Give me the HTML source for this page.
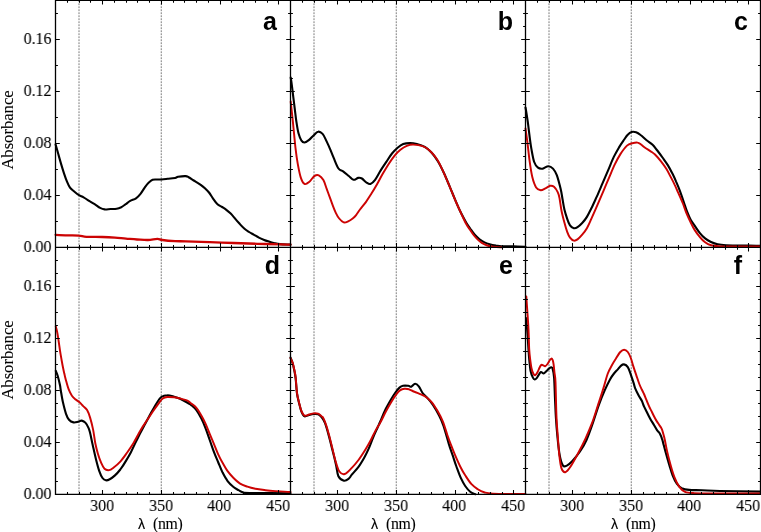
<!DOCTYPE html>
<html><head><meta charset="utf-8"><style>
html,body{margin:0;padding:0;background:#fff;width:761px;height:532px;overflow:hidden;position:relative}
.yl{position:absolute;left:0;width:51.6px;text-align:right;transform:scaleX(0.97);transform-origin:100% 50%;font:16.5px/1 "Liberation Serif",serif;color:#000;white-space:nowrap}
.xl{position:absolute;top:498px;width:40px;text-align:center;transform:scaleX(0.965);font:16.5px/1 "Liberation Serif",serif;color:#000}
.lam{position:absolute;top:516.2px;font:15.8px/1 "Liberation Serif",serif;letter-spacing:-0.35px;color:#000;white-space:nowrap}
.lam.g{font-family:"Liberation Sans",sans-serif;font-size:14.2px;top:516.8px}
.ylab{position:absolute;left:-37.5px;width:90px;height:16px;text-align:center;font:16.6px/1 "Liberation Serif",serif;transform:rotate(-90deg);transform-origin:50% 50%;margin-top:-8px}
.pl{position:absolute;width:40px;text-align:right;font:bold 25px/1 "Liberation Sans",sans-serif;color:#000}
.yl,.xl,.lam,.pl,.ylab{will-change:transform}
.yl,.xl,.lam,.ylab{-webkit-text-stroke:0.1px #000}
</style></head><body>
<svg width="761" height="532" viewBox="0 0 761 532" style="position:absolute;left:0;top:0"><line x1="79.00" y1="0.30" x2="79.00" y2="247.30" stroke="#6c6c6c" stroke-width="0.9" stroke-dasharray="1.85 1.15"/>
<line x1="161.25" y1="0.30" x2="161.25" y2="247.30" stroke="#6c6c6c" stroke-width="0.9" stroke-dasharray="1.85 1.15"/>
<line x1="314.00" y1="0.30" x2="314.00" y2="247.30" stroke="#6c6c6c" stroke-width="0.9" stroke-dasharray="1.85 1.15"/>
<line x1="396.25" y1="0.30" x2="396.25" y2="247.30" stroke="#6c6c6c" stroke-width="0.9" stroke-dasharray="1.85 1.15"/>
<line x1="549.00" y1="0.30" x2="549.00" y2="247.30" stroke="#6c6c6c" stroke-width="0.9" stroke-dasharray="1.85 1.15"/>
<line x1="631.25" y1="0.30" x2="631.25" y2="247.30" stroke="#6c6c6c" stroke-width="0.9" stroke-dasharray="1.85 1.15"/>
<line x1="79.00" y1="247.30" x2="79.00" y2="494.30" stroke="#6c6c6c" stroke-width="0.9" stroke-dasharray="1.85 1.15"/>
<line x1="161.25" y1="247.30" x2="161.25" y2="494.30" stroke="#6c6c6c" stroke-width="0.9" stroke-dasharray="1.85 1.15"/>
<line x1="314.00" y1="247.30" x2="314.00" y2="494.30" stroke="#6c6c6c" stroke-width="0.9" stroke-dasharray="1.85 1.15"/>
<line x1="396.25" y1="247.30" x2="396.25" y2="494.30" stroke="#6c6c6c" stroke-width="0.9" stroke-dasharray="1.85 1.15"/>
<line x1="549.00" y1="247.30" x2="549.00" y2="494.30" stroke="#6c6c6c" stroke-width="0.9" stroke-dasharray="1.85 1.15"/>
<line x1="631.25" y1="247.30" x2="631.25" y2="494.30" stroke="#6c6c6c" stroke-width="0.9" stroke-dasharray="1.85 1.15"/>
<path d="M55.6 144.5C56.0 145.9 57.1 149.8 58.0 153.0C58.9 156.2 60.0 160.2 61.0 163.6C62.0 167.0 63.0 170.3 64.0 173.3C65.0 176.3 66.0 179.2 67.0 181.6C68.0 184.0 68.8 185.9 70.0 187.6C71.2 189.3 73.0 190.5 74.5 191.8C76.0 193.1 77.5 194.3 79.0 195.2C80.5 196.1 81.8 196.4 83.6 197.4C85.4 198.4 87.6 199.9 89.6 201.2C91.6 202.4 93.8 203.8 95.6 204.9C97.3 206.0 98.6 207.2 100.1 207.9C101.6 208.7 102.8 209.2 104.6 209.4C106.3 209.6 108.6 209.1 110.6 209.0C112.6 208.9 114.9 209.0 116.7 208.7C118.5 208.4 119.7 207.9 121.2 207.2C122.7 206.4 124.2 205.2 125.7 204.2C127.2 203.1 128.5 201.9 130.2 200.9C131.9 199.9 134.3 199.5 136.0 198.3C137.7 197.1 139.0 195.7 140.5 193.8C142.0 191.9 143.6 189.0 145.0 187.1C146.4 185.2 147.5 183.8 148.8 182.6C150.1 181.4 151.2 180.3 152.6 179.8C154.0 179.3 155.5 179.6 157.0 179.5C158.5 179.4 159.8 179.6 161.6 179.5C163.4 179.4 165.3 179.1 167.6 178.8C169.8 178.6 173.3 178.3 175.1 178.0C176.8 177.7 176.3 177.1 178.1 176.8C179.8 176.5 183.8 176.0 185.6 176.1C187.3 176.2 187.1 176.5 188.6 177.3C190.1 178.1 192.7 179.8 194.7 181.0C196.7 182.2 198.9 183.5 200.7 184.8C202.4 186.1 203.8 187.3 205.2 188.6C206.6 189.9 207.7 190.9 209.0 192.5C210.3 194.1 211.5 196.4 212.9 198.4C214.3 200.4 216.0 202.9 217.5 204.3C219.0 205.7 220.7 206.1 222.1 207.0C223.5 207.9 224.6 208.5 226.0 209.6C227.4 210.7 229.1 212.1 230.7 213.6C232.2 215.1 233.8 217.1 235.3 218.8C236.8 220.6 238.4 222.4 239.9 224.1C241.4 225.8 243.0 227.4 244.5 228.7C246.0 230.0 247.6 231.0 249.1 232.0C250.6 233.0 252.1 233.7 253.7 234.6C255.3 235.5 257.1 236.7 258.9 237.6C260.6 238.5 262.4 239.2 264.2 239.9C266.0 240.6 267.8 241.2 269.5 241.8C271.2 242.4 272.9 242.8 274.7 243.2C276.4 243.6 277.4 243.9 280.0 244.1C282.6 244.3 288.8 244.5 290.5 244.6" stroke="#000" stroke-width="2.1" fill="none" stroke-linejoin="round" stroke-linecap="round"/>
<path d="M55.6 234.8C57.6 234.9 63.7 235.2 67.6 235.3C71.4 235.5 75.5 235.4 78.7 235.7C81.9 235.9 82.6 236.6 86.5 236.8C90.4 237.0 97.5 236.9 102.3 237.0C107.0 237.1 111.0 237.3 115.0 237.6C119.0 237.9 122.3 238.3 126.0 238.6C129.7 238.9 133.3 239.3 137.0 239.5C140.7 239.7 144.6 240.1 148.0 240.0C151.4 239.9 155.1 238.9 157.5 238.9C159.9 238.9 159.4 239.6 162.3 240.0C165.2 240.4 171.1 240.9 175.0 241.1C178.9 241.3 180.1 241.2 185.9 241.4C191.7 241.6 201.8 241.9 209.7 242.2C217.6 242.5 225.7 242.7 233.6 243.0C241.5 243.3 249.4 243.6 257.4 243.8C265.3 244.0 275.8 244.2 281.3 244.4C286.8 244.6 289.0 244.6 290.5 244.7" stroke="#cc0303" stroke-width="2.3" fill="none" stroke-linejoin="round" stroke-linecap="round"/>
<path d="M290.7 77.5C290.9 78.8 291.4 81.7 291.8 85.0C292.2 88.3 292.8 93.1 293.3 97.1C293.8 101.1 294.3 105.1 294.8 109.1C295.3 113.1 295.7 117.1 296.3 121.1C296.9 125.1 297.6 129.9 298.5 133.2C299.4 136.5 300.5 139.1 301.5 140.7C302.5 142.2 303.2 142.6 304.5 142.5C305.8 142.4 307.6 141.1 309.1 139.9C310.6 138.7 312.1 136.8 313.6 135.4C315.1 134.0 316.6 131.9 318.1 131.7C319.6 131.4 321.2 132.4 322.6 133.9C324.0 135.4 325.1 138.2 326.3 140.7C327.5 143.2 328.8 145.9 330.0 148.8C331.2 151.7 332.4 154.9 333.8 158.2C335.2 161.5 336.9 166.3 338.5 168.5C340.1 170.7 341.4 170.1 343.1 171.3C344.8 172.6 347.1 174.6 348.8 176.0C350.5 177.4 351.9 179.5 353.5 179.8C355.1 180.1 356.8 178.1 358.2 177.9C359.6 177.7 360.5 177.7 361.9 178.5C363.3 179.3 365.2 181.7 366.6 182.6C368.0 183.5 369.0 184.4 370.4 183.9C371.8 183.4 373.4 182.1 375.1 179.8C376.8 177.6 378.8 173.4 380.7 170.4C382.6 167.4 384.4 164.7 386.3 161.9C388.2 159.1 390.1 155.8 392.0 153.5C393.9 151.2 395.7 149.4 397.6 147.8C399.5 146.2 401.1 144.9 403.2 144.1C405.3 143.3 407.8 143.1 410.1 143.1C412.4 143.1 414.4 143.4 416.9 144.0C419.3 144.6 422.4 145.5 424.8 146.9C427.2 148.3 429.3 150.1 431.5 152.5C433.7 154.9 435.9 158.1 438.0 161.5C440.1 164.9 441.9 168.7 443.8 172.8C445.7 176.9 447.7 181.8 449.6 186.3C451.5 190.8 453.4 195.6 455.2 199.9C457.0 204.2 458.8 208.5 460.7 212.3C462.6 216.1 464.7 220.0 466.3 222.8C467.9 225.6 469.1 227.0 470.5 229.0C471.9 231.0 473.3 233.1 474.8 234.8C476.3 236.5 477.9 238.0 479.5 239.3C481.1 240.6 482.8 241.6 484.5 242.4C486.2 243.2 487.8 243.7 489.7 244.2C491.6 244.7 494.0 245.2 496.0 245.6C498.0 245.9 498.6 246.2 501.5 246.3C504.4 246.4 509.3 246.3 513.3 246.4C517.3 246.5 523.5 246.6 525.5 246.7" stroke="#000" stroke-width="2.1" fill="none" stroke-linejoin="round" stroke-linecap="round"/>
<path d="M290.7 101.6C291.0 104.3 291.9 112.8 292.5 118.1C293.1 123.4 293.5 128.2 294.0 133.2C294.5 138.2 294.9 143.0 295.5 148.2C296.1 153.3 296.9 159.2 297.8 164.1C298.7 169.0 299.7 174.3 300.8 177.6C301.9 180.9 303.1 183.2 304.5 183.9C305.9 184.7 307.5 183.4 309.1 182.1C310.7 180.8 312.7 177.2 314.3 176.1C315.9 175.0 317.3 174.6 318.8 175.3C320.3 176.0 322.1 177.8 323.4 180.1C324.7 182.4 325.7 186.2 326.8 189.2C327.9 192.2 329.1 195.4 330.1 198.2C331.1 201.0 332.1 203.7 333.0 206.1C333.9 208.5 334.8 210.7 335.8 212.8C336.8 214.9 337.9 216.9 339.2 218.5C340.5 220.1 342.2 221.9 343.7 222.4C345.2 222.9 346.7 222.0 348.2 221.3C349.7 220.7 351.4 219.5 352.7 218.5C354.0 217.5 354.9 216.6 356.1 215.1C357.3 213.6 358.4 211.6 360.0 209.5C361.6 207.4 363.8 204.9 365.7 202.3C367.6 199.7 369.4 196.8 371.3 193.8C373.2 190.8 375.0 187.8 376.9 184.5C378.8 181.2 380.7 177.4 382.6 174.1C384.5 170.8 386.2 167.8 388.2 164.7C390.2 161.6 392.8 157.9 394.8 155.4C396.8 152.9 398.4 151.3 400.4 149.7C402.4 148.1 404.6 146.7 406.8 145.8C409.0 145.0 410.9 144.5 413.5 144.6C416.1 144.7 419.9 145.2 422.5 146.2C425.1 147.1 426.9 148.1 429.3 150.3C431.7 152.5 434.8 155.9 437.0 159.3C439.2 162.7 440.7 166.1 442.8 170.6C444.9 175.1 447.4 181.2 449.6 186.3C451.8 191.5 453.9 197.1 455.8 201.5C457.7 205.9 459.2 209.1 460.9 212.8C462.6 216.5 464.6 221.0 466.1 223.8C467.6 226.6 468.7 227.9 470.0 229.8C471.3 231.8 472.7 233.9 474.0 235.5C475.3 237.1 476.5 238.4 477.8 239.6C479.1 240.8 480.2 241.8 481.8 242.8C483.4 243.8 485.3 244.8 487.3 245.5C489.3 246.2 491.2 246.4 493.6 246.7C496.1 247.0 500.6 247.2 502.0 247.3" stroke="#cc0303" stroke-width="1.95" fill="none" stroke-linejoin="round" stroke-linecap="round"/>
<path d="M525.5 107.5C525.9 109.7 526.9 116.0 527.6 120.7C528.3 125.4 528.9 131.0 529.5 135.7C530.1 140.4 530.6 144.5 531.4 148.9C532.2 153.3 533.1 158.9 534.2 162.0C535.3 165.1 536.6 166.6 538.0 167.7C539.4 168.8 541.0 168.8 542.7 168.6C544.4 168.3 546.6 166.2 548.3 166.2C550.0 166.2 551.6 167.1 553.0 168.6C554.4 170.1 555.5 171.9 556.8 175.2C558.0 178.5 559.5 184.3 560.5 188.3C561.5 192.3 561.9 195.5 562.5 199.0C563.1 202.5 563.6 206.1 564.4 209.4C565.2 212.7 566.3 216.1 567.2 218.8C568.1 221.5 568.9 223.8 570.0 225.4C571.1 227.0 572.5 227.9 573.8 228.2C575.0 228.5 576.1 228.1 577.5 227.2C578.9 226.3 580.6 224.7 582.2 223.0C583.8 221.3 585.4 219.4 586.9 216.9C588.4 214.4 589.8 211.4 591.5 208.0C593.2 204.6 595.0 200.5 596.9 196.4C598.8 192.3 600.7 187.6 602.6 183.2C604.5 178.8 606.3 174.5 608.2 170.1C610.1 165.7 611.9 160.8 613.8 156.9C615.7 153.0 617.8 149.5 619.5 146.6C621.2 143.7 622.9 141.4 624.2 139.5C625.5 137.6 626.3 136.2 627.5 135.0C628.7 133.8 630.2 132.4 631.6 132.0C633.0 131.6 634.6 131.8 636.1 132.3C637.6 132.8 638.9 133.7 640.6 135.0C642.4 136.3 644.6 138.7 646.6 140.3C648.6 141.9 650.8 143.1 652.6 144.8C654.4 146.5 655.6 148.4 657.3 150.5C658.9 152.6 660.8 155.1 662.5 157.5C664.2 159.9 666.2 162.5 667.8 165.1C669.4 167.7 670.9 170.6 672.3 173.3C673.7 176.1 674.9 178.7 676.1 181.6C677.4 184.5 678.5 187.1 679.8 190.7C681.1 194.3 682.9 199.4 684.1 203.0C685.3 206.6 686.1 209.2 687.2 212.0C688.3 214.8 689.4 217.6 690.8 220.0C692.1 222.4 693.8 224.4 695.3 226.6C696.8 228.8 698.3 231.1 699.9 233.1C701.5 235.1 703.2 236.9 705.1 238.4C707.0 239.9 708.9 241.0 711.0 242.0C713.1 243.0 715.1 243.8 717.6 244.3C720.1 244.9 722.4 245.1 726.1 245.3C729.8 245.5 736.2 245.6 740.0 245.6C743.8 245.6 745.6 245.5 749.0 245.5C752.4 245.5 758.6 245.8 760.5 245.8" stroke="#000" stroke-width="2.1" fill="none" stroke-linejoin="round" stroke-linecap="round"/>
<path d="M525.5 128.5C525.8 130.7 526.6 136.1 527.3 141.4C528.0 146.7 528.7 154.2 529.5 160.2C530.3 166.1 531.2 172.6 532.3 177.1C533.4 181.6 534.7 185.2 536.1 187.4C537.5 189.6 539.2 190.0 540.8 190.2C542.4 190.3 543.9 189.0 545.5 188.3C547.1 187.6 548.8 186.1 550.2 185.8C551.6 185.6 552.8 185.8 554.0 186.8C555.2 187.9 556.8 190.2 557.7 192.1C558.6 194.0 558.9 194.8 559.5 198.0C560.1 201.2 560.8 207.2 561.6 211.3C562.4 215.4 563.5 219.1 564.4 222.5C565.3 225.9 566.3 229.4 567.2 231.9C568.1 234.4 568.9 236.2 570.0 237.6C571.1 239.0 572.5 240.3 573.8 240.6C575.0 240.9 576.1 240.4 577.5 239.4C578.9 238.4 580.6 236.6 582.2 234.7C583.8 232.8 585.4 230.8 586.9 228.2C588.4 225.6 589.5 222.9 591.3 218.9C593.1 214.9 595.9 208.6 597.9 203.9C599.9 199.2 601.6 195.2 603.5 190.8C605.4 186.4 607.2 182.0 609.1 177.6C611.0 173.2 612.9 168.3 614.8 164.4C616.7 160.5 618.4 157.2 620.4 154.1C622.4 151.0 625.0 147.4 627.0 145.6C629.0 143.8 630.5 143.8 632.3 143.3C634.1 142.8 636.1 142.3 637.6 142.6C639.1 142.8 640.1 143.9 641.4 144.8C642.6 145.7 643.5 146.7 645.1 147.8C646.7 148.9 649.5 150.5 651.1 151.6C652.8 152.7 653.4 152.9 655.0 154.5C656.6 156.1 659.1 158.9 661.0 161.3C662.9 163.7 664.7 166.2 666.3 168.8C667.9 171.4 669.4 174.5 670.8 177.1C672.2 179.7 673.4 182.0 674.6 184.6C675.9 187.2 676.9 189.8 678.3 192.9C679.7 196.1 681.6 200.2 682.9 203.5C684.2 206.8 684.9 209.4 686.2 212.5C687.5 215.6 689.1 219.1 690.5 222.0C691.9 224.9 693.0 227.4 694.6 229.9C696.2 232.4 698.1 235.0 699.9 237.1C701.6 239.2 703.2 240.9 705.1 242.3C707.0 243.7 708.6 244.6 711.0 245.3C713.4 246.0 716.4 246.2 719.6 246.4C722.8 246.6 723.2 246.5 730.0 246.5C736.8 246.5 755.4 246.5 760.5 246.5" stroke="#cc0303" stroke-width="1.95" fill="none" stroke-linejoin="round" stroke-linecap="round"/>
<path d="M55.8 370.9C56.1 371.8 57.1 373.8 57.8 376.2C58.5 378.6 59.5 382.8 60.0 385.2C60.5 387.6 60.3 387.6 60.8 390.5C61.3 393.4 62.1 398.7 63.0 402.6C63.9 406.5 65.0 410.9 66.0 413.8C67.0 416.7 67.8 418.4 69.0 419.8C70.2 421.2 72.0 422.1 73.5 422.4C75.0 422.7 76.7 422.1 78.1 421.8C79.5 421.5 80.5 420.4 81.8 420.6C83.0 420.8 84.5 421.6 85.6 422.9C86.7 424.1 87.9 426.5 88.6 428.1C89.3 429.7 89.3 429.9 90.0 432.6C90.7 435.3 91.6 440.1 92.6 444.5C93.6 448.9 94.8 454.5 95.9 458.9C97.0 463.3 98.1 467.6 99.2 470.8C100.3 474.0 101.4 476.4 102.5 478.0C103.6 479.6 104.6 480.1 105.8 480.3C107.0 480.5 108.2 480.1 109.7 479.3C111.2 478.5 113.2 477.0 115.0 475.4C116.8 473.8 118.5 471.8 120.3 469.5C122.0 467.2 123.8 464.5 125.5 461.6C127.2 458.8 129.2 455.4 130.8 452.4C132.4 449.4 133.6 446.6 135.0 443.6C136.4 440.6 137.8 438.0 139.5 434.6C141.2 431.2 143.5 427.1 145.5 423.3C147.5 419.6 149.6 415.5 151.5 412.1C153.4 408.7 155.2 405.5 156.8 403.0C158.4 400.5 159.6 398.3 161.3 397.0C163.1 395.7 165.2 395.2 167.3 395.2C169.4 395.1 172.0 396.1 174.1 396.7C176.2 397.3 177.8 397.8 180.1 398.8C182.4 399.9 186.1 401.9 188.0 403.0C189.8 404.1 189.9 403.9 191.3 405.1C192.7 406.3 194.7 407.9 196.4 410.1C198.1 412.4 199.8 415.5 201.4 418.6C203.0 421.7 204.3 425.1 205.7 428.7C207.1 432.3 208.5 436.6 209.9 440.5C211.3 444.4 212.7 448.7 214.1 452.4C215.5 456.1 216.9 459.1 218.3 462.5C219.7 465.9 221.1 469.5 222.6 472.6C224.2 475.7 225.8 478.7 227.6 481.1C229.4 483.5 231.7 485.5 233.5 487.0C235.3 488.5 237.1 489.3 238.6 490.2C240.2 491.1 241.0 491.8 242.8 492.3C244.6 492.8 241.6 492.9 249.5 493.0C257.5 493.1 283.7 493.2 290.5 493.2" stroke="#000" stroke-width="2.1" fill="none" stroke-linejoin="round" stroke-linecap="round"/>
<path d="M55.8 326.5C56.0 327.3 56.5 328.8 57.0 331.1C57.5 333.4 58.0 336.9 58.5 340.1C59.0 343.4 59.5 347.3 60.0 350.6C60.5 353.9 61.1 357.2 61.6 360.0C62.1 362.8 62.5 365.1 63.0 367.5C63.5 369.9 63.9 371.8 64.4 374.1C65.0 376.5 65.6 379.1 66.3 381.6C67.0 384.1 67.7 386.9 68.6 389.2C69.5 391.5 70.7 394.0 71.9 395.7C73.1 397.4 74.4 398.4 75.7 399.5C77.0 400.6 78.2 401.2 79.5 402.3C80.8 403.4 81.9 404.8 83.2 406.1C84.5 407.4 85.9 408.2 87.1 410.1C88.2 412.0 89.1 414.4 90.1 417.6C91.1 420.9 92.2 425.3 93.1 429.6C94.0 433.9 94.5 439.2 95.3 443.2C96.1 447.2 96.9 450.4 97.9 453.7C98.9 457.0 100.1 460.4 101.2 462.9C102.3 465.4 103.2 467.6 104.5 468.8C105.8 470.0 107.6 470.3 109.1 470.1C110.6 469.9 111.8 468.9 113.7 467.5C115.6 466.1 118.1 464.0 120.3 461.6C122.5 459.2 124.6 456.1 126.8 453.0C129.0 449.9 131.0 447.1 133.4 443.2C135.8 439.3 138.7 433.2 141.0 429.4C143.3 425.6 145.0 423.3 147.0 420.3C149.0 417.3 151.1 414.1 153.0 411.3C154.9 408.6 156.7 405.9 158.3 403.8C159.9 401.7 161.3 399.6 162.8 398.5C164.3 397.4 165.4 397.2 167.3 397.0C169.2 396.8 172.0 397.1 174.1 397.3C176.2 397.6 177.8 397.9 180.1 398.5C182.4 399.1 186.0 400.0 187.8 400.8C189.6 401.6 189.7 402.3 191.1 403.4C192.5 404.5 194.5 405.6 196.2 407.6C197.9 409.6 199.6 412.5 201.2 415.2C202.8 417.9 204.1 420.5 205.5 423.6C206.9 426.7 208.3 430.4 209.7 433.8C211.1 437.2 212.5 440.5 213.9 443.9C215.3 447.3 216.7 451.0 218.1 454.1C219.5 457.2 220.8 459.7 222.4 462.5C224.0 465.3 225.6 468.4 227.4 470.9C229.2 473.4 231.2 475.6 233.3 477.7C235.4 479.8 237.7 482.1 240.1 483.6C242.5 485.1 244.9 485.8 247.4 486.7C250.0 487.6 252.4 488.2 255.4 488.8C258.4 489.4 262.1 489.8 265.5 490.2C268.9 490.6 271.3 490.8 275.5 491.1C279.7 491.4 288.0 491.9 290.5 492.0" stroke="#cc0303" stroke-width="1.95" fill="none" stroke-linejoin="round" stroke-linecap="round"/>
<path d="M290.5 357.5C290.8 358.4 291.9 360.7 292.5 362.8C293.1 364.9 293.7 367.5 294.2 370.0C294.7 372.5 295.1 374.1 295.6 378.0C296.1 381.9 296.4 389.2 297.0 393.5C297.6 397.8 298.6 400.9 299.3 404.0C300.1 407.1 300.6 409.8 301.5 411.8C302.4 413.9 303.2 415.8 304.5 416.3C305.8 416.8 307.6 415.4 309.1 415.0C310.6 414.6 312.1 414.1 313.6 414.0C315.1 413.9 316.9 413.9 318.1 414.3C319.3 414.7 319.9 415.1 321.0 416.5C322.1 417.9 323.6 419.6 324.8 422.6C326.1 425.6 327.2 430.1 328.5 434.6C329.8 439.1 331.1 444.6 332.3 449.6C333.6 454.6 335.0 460.2 336.0 464.7C337.0 469.1 337.1 473.6 338.4 476.3C339.7 479.0 342.3 480.3 344.0 480.7C345.7 481.1 347.4 479.7 348.7 478.7C350.0 477.7 350.2 476.7 351.8 474.7C353.4 472.7 356.4 469.6 358.5 466.8C360.6 464.0 362.5 460.7 364.2 457.7C365.9 454.7 367.2 452.1 368.7 448.7C370.2 445.3 371.7 441.0 373.2 437.4C374.7 433.8 376.5 430.0 377.7 427.3C378.9 424.6 379.3 423.8 380.5 421.0C381.7 418.2 383.3 413.9 385.0 410.4C386.7 406.9 389.0 403.0 390.7 400.0C392.4 397.0 393.9 394.6 395.4 392.5C396.9 390.4 398.2 388.7 399.5 387.6C400.8 386.5 401.5 386.1 403.0 385.8C404.5 385.5 406.9 385.7 408.3 385.8C409.7 385.9 410.2 387.1 411.3 386.7C412.4 386.3 413.9 383.8 415.1 383.7C416.4 383.6 417.6 384.8 418.8 386.3C420.1 387.9 421.2 391.1 422.6 393.0C424.0 394.9 425.4 395.6 427.1 397.6C428.9 399.6 431.1 402.1 433.1 405.1C435.1 408.1 437.4 412.1 439.1 415.6C440.9 419.1 442.0 421.4 443.6 426.1C445.2 430.8 447.3 439.0 448.8 443.9C450.3 448.8 451.3 451.4 452.6 455.2C453.9 459.0 455.0 462.7 456.4 466.5C457.8 470.3 459.3 474.6 460.8 477.9C462.3 481.1 463.6 483.7 465.2 486.0C466.8 488.3 468.5 490.3 470.2 491.7C471.9 493.1 474.4 493.8 475.3 494.2" stroke="#000" stroke-width="2.1" fill="none" stroke-linejoin="round" stroke-linecap="round"/>
<path d="M290.5 358.2C290.8 358.9 291.9 360.6 292.5 362.4C293.1 364.2 293.7 366.8 294.2 369.2C294.7 371.6 295.1 373.0 295.6 377.0C296.1 381.0 296.4 388.7 297.0 393.1C297.6 397.5 298.6 400.6 299.3 403.6C300.1 406.6 300.6 409.2 301.5 411.2C302.4 413.2 303.2 415.1 304.5 415.7C305.8 416.2 307.6 414.9 309.1 414.5C310.6 414.1 312.1 413.5 313.6 413.4C315.1 413.3 316.7 413.2 318.1 413.7C319.5 414.2 320.9 415.7 321.8 416.4C322.7 417.1 322.6 416.5 323.3 418.0C324.1 419.5 325.3 422.6 326.3 425.6C327.3 428.6 328.3 432.4 329.3 436.1C330.3 439.9 331.3 444.1 332.3 448.1C333.3 452.1 334.2 456.4 335.3 460.2C336.4 464.0 337.6 468.9 339.2 471.2C340.8 473.5 342.6 474.6 344.7 474.0C346.8 473.4 349.5 470.2 351.8 467.9C354.1 465.6 356.2 463.0 358.5 460.0C360.8 457.0 363.2 453.2 365.3 449.8C367.4 446.4 369.3 442.9 371.0 439.7C372.7 436.5 373.9 433.5 375.5 430.6C377.1 427.8 378.6 425.8 380.3 422.6C382.1 419.4 384.1 414.8 386.0 411.3C387.9 407.8 389.9 404.3 391.6 401.5C393.3 398.7 394.9 396.2 396.3 394.4C397.7 392.5 398.6 391.3 400.0 390.4C401.4 389.5 403.0 389.0 404.5 388.8C406.0 388.6 407.6 388.9 409.1 389.3C410.6 389.8 411.9 390.8 413.6 391.5C415.4 392.2 417.6 392.9 419.6 393.8C421.6 394.7 423.6 395.4 425.6 396.8C427.6 398.2 429.6 399.7 431.6 402.1C433.6 404.5 435.7 407.9 437.6 411.1C439.5 414.4 441.3 417.6 442.9 421.6C444.5 425.6 446.2 431.7 447.4 435.2C448.6 438.7 448.8 439.3 450.1 442.6C451.4 445.9 453.4 451.2 455.1 455.2C456.8 459.2 458.5 463.1 460.2 466.5C461.9 469.9 463.3 472.4 465.2 475.3C467.1 478.2 469.4 481.9 471.5 484.2C473.6 486.5 475.7 487.8 477.8 489.2C479.9 490.6 481.6 491.6 484.1 492.3C486.6 493.0 486.0 493.3 492.9 493.6C499.8 493.9 520.1 493.9 525.5 494.0" stroke="#cc0303" stroke-width="1.95" fill="none" stroke-linejoin="round" stroke-linecap="round"/>
<path d="M526.0 318.0C526.2 320.0 526.8 325.5 527.2 330.0C527.6 334.5 527.9 340.2 528.2 345.0C528.5 349.8 528.8 354.5 529.2 358.8C529.6 363.1 530.0 367.9 530.6 371.0C531.2 374.1 532.2 376.2 532.9 377.6C533.6 379.0 534.2 379.4 534.8 379.5C535.4 379.6 536.1 378.8 536.7 378.1C537.3 377.4 537.9 376.2 538.6 375.2C539.3 374.2 540.0 372.3 540.9 372.0C541.8 371.7 542.8 373.6 543.7 373.4C544.7 373.2 545.7 371.8 546.6 371.0C547.5 370.2 548.1 369.3 548.9 368.7C549.7 368.1 550.7 367.2 551.3 367.3C551.9 367.4 552.2 367.4 552.7 369.1C553.2 370.8 553.7 372.7 554.1 377.6C554.5 382.6 554.7 392.1 555.0 398.8C555.3 405.5 555.5 411.3 555.9 417.6C556.3 423.9 556.8 430.1 557.4 436.4C558.0 442.7 558.8 450.3 559.7 455.2C560.6 460.1 561.8 463.9 563.0 465.6C564.2 467.3 565.2 466.4 566.8 465.6C568.4 464.8 570.2 463.2 572.4 460.9C574.6 458.5 577.6 455.0 580.0 451.5C582.4 448.0 584.4 444.7 586.5 440.0C588.6 435.3 590.8 429.0 592.8 423.2C594.8 417.4 596.8 410.6 598.8 405.1C600.8 399.6 602.9 394.4 604.8 390.1C606.7 385.8 608.5 382.3 610.0 379.5C611.5 376.7 612.7 375.1 614.0 373.5C615.3 371.9 616.4 370.9 617.6 369.6C618.8 368.3 620.0 366.5 621.1 365.6C622.2 364.7 623.0 364.1 624.1 364.4C625.2 364.6 626.7 365.4 627.8 367.1C628.9 368.8 629.8 371.9 630.8 374.6C631.8 377.4 633.1 381.3 633.8 383.6C634.5 385.9 634.4 386.5 635.2 388.4C636.0 390.3 637.3 393.0 638.4 395.1C639.5 397.2 640.9 398.9 641.8 400.8C642.7 402.7 643.2 404.5 644.0 406.4C644.8 408.3 645.8 409.9 646.8 412.0C647.8 414.1 649.1 416.7 650.2 418.8C651.3 420.9 652.5 422.5 653.6 424.4C654.7 426.3 656.0 428.6 657.0 430.1C658.0 431.6 658.9 432.0 659.8 433.5C660.6 435.0 661.5 437.2 662.1 439.1C662.8 441.0 663.0 442.5 663.7 445.0C664.4 447.5 665.2 450.8 666.2 454.2C667.2 457.6 668.4 462.1 669.5 465.6C670.6 469.2 671.5 472.5 672.7 475.5C673.9 478.5 675.3 481.5 676.8 483.6C678.3 485.7 679.7 487.1 681.7 488.2C683.8 489.2 685.7 489.6 689.1 489.9C692.5 490.2 697.1 490.0 702.2 490.2C707.4 490.4 710.3 490.8 720.0 491.0C729.7 491.2 753.8 491.5 760.5 491.6" stroke="#000" stroke-width="2.1" fill="none" stroke-linejoin="round" stroke-linecap="round"/>
<path d="M526.3 296.5C526.5 299.2 527.0 307.0 527.4 312.5C527.8 318.0 528.2 323.4 528.5 329.5C528.8 335.6 528.9 344.5 529.2 349.4C529.5 354.3 529.7 355.7 530.1 358.8C530.5 361.9 531.0 365.7 531.5 368.2C532.0 370.7 532.8 372.6 533.4 373.8C534.0 375.0 534.6 375.5 535.3 375.2C536.0 374.9 536.9 373.2 537.6 372.0C538.3 370.8 538.9 368.9 539.5 367.7C540.1 366.5 540.8 365.3 541.4 364.9C542.0 364.5 542.7 365.2 543.3 365.4C543.9 365.6 544.4 366.5 545.1 366.3C545.8 366.1 546.8 364.9 547.5 364.0C548.2 363.1 548.8 361.6 549.4 360.7C550.0 359.8 550.8 358.7 551.3 358.6C551.8 358.5 552.3 359.2 552.7 360.2C553.1 361.2 553.3 362.3 553.6 364.4C553.9 366.5 554.2 369.9 554.5 372.9C554.8 375.9 555.2 374.9 555.5 382.3C555.8 389.8 556.1 408.6 556.5 417.6C556.9 426.6 557.3 430.1 557.8 436.4C558.3 442.7 558.7 449.9 559.3 455.2C559.9 460.5 560.5 465.6 561.5 468.4C562.5 471.2 563.8 472.5 565.3 472.2C566.8 471.9 568.5 469.6 570.6 466.5C572.7 463.4 575.6 458.0 578.1 453.3C580.6 448.6 583.3 443.3 585.6 438.3C587.9 433.3 589.9 428.7 592.0 423.2C594.1 417.7 596.1 410.9 598.0 405.1C599.9 399.3 601.7 393.9 603.3 388.6C604.9 383.3 606.4 377.3 607.8 373.5C609.2 369.7 610.3 368.2 611.6 365.8C612.9 363.4 614.3 361.1 615.8 358.8C617.2 356.5 618.9 353.5 620.3 352.0C621.7 350.5 622.9 349.8 624.1 349.8C625.4 349.8 626.7 350.6 627.8 352.0C628.9 353.4 629.9 355.7 630.8 358.0C631.7 360.3 632.2 362.8 633.1 365.6C634.0 368.4 635.0 371.5 636.1 374.6C637.2 377.8 638.5 382.0 639.5 384.5C640.5 387.0 641.0 387.9 641.8 389.5C642.5 391.1 643.2 392.3 644.0 394.0C644.8 395.7 645.4 397.5 646.3 399.6C647.1 401.7 648.2 404.3 649.1 406.4C650.0 408.5 650.9 409.9 651.9 412.0C652.9 414.1 654.3 416.9 655.3 418.8C656.3 420.7 657.1 421.7 658.1 423.3C659.1 424.9 660.6 426.7 661.5 428.4C662.4 430.1 662.6 431.5 663.2 433.5C663.8 435.5 664.3 437.3 664.9 440.2C665.5 443.1 666.1 446.9 667.0 450.9C667.9 454.9 669.1 459.6 670.3 464.0C671.5 468.4 672.9 473.3 674.4 477.1C675.9 480.9 677.5 484.4 679.3 486.9C681.1 489.3 682.5 490.8 685.0 491.8C687.5 492.8 688.2 492.8 694.0 493.1C699.8 493.4 708.9 493.4 720.0 493.5C731.1 493.6 753.8 493.5 760.5 493.5" stroke="#cc0303" stroke-width="1.95" fill="none" stroke-linejoin="round" stroke-linecap="round"/>
<path d="M67.50 247.30v-2.4M67.50 0.30v2.4M79.50 247.30v-2.4M79.50 0.30v2.4M90.50 247.30v-2.4M90.50 0.30v2.4M102.50 247.30v-4.3M102.50 0.30v4.3M114.50 247.30v-2.4M114.50 0.30v2.4M126.50 247.30v-2.4M126.50 0.30v2.4M137.50 247.30v-2.4M137.50 0.30v2.4M149.50 247.30v-2.4M149.50 0.30v2.4M161.50 247.30v-4.3M161.50 0.30v4.3M173.50 247.30v-2.4M173.50 0.30v2.4M184.50 247.30v-2.4M184.50 0.30v2.4M196.50 247.30v-2.4M196.50 0.30v2.4M208.50 247.30v-2.4M208.50 0.30v2.4M220.50 247.30v-4.3M220.50 0.30v4.3M231.50 247.30v-2.4M231.50 0.30v2.4M243.50 247.30v-2.4M243.50 0.30v2.4M255.50 247.30v-2.4M255.50 0.30v2.4M267.50 247.30v-2.4M267.50 0.30v2.4M278.50 247.30v-4.3M278.50 0.30v4.3M55.50 221.50h2.4M290.50 221.50h-2.4M55.50 195.50h4.3M290.50 195.50h-4.3M55.50 169.50h2.4M290.50 169.50h-2.4M55.50 143.50h4.3M290.50 143.50h-4.3M55.50 117.50h2.4M290.50 117.50h-2.4M55.50 91.50h4.3M290.50 91.50h-4.3M55.50 65.50h2.4M290.50 65.50h-2.4M55.50 39.50h4.3M290.50 39.50h-4.3M55.50 13.50h2.4M290.50 13.50h-2.4M302.50 247.30v-2.4M302.50 0.30v2.4M314.50 247.30v-2.4M314.50 0.30v2.4M325.50 247.30v-2.4M325.50 0.30v2.4M337.50 247.30v-4.3M337.50 0.30v4.3M349.50 247.30v-2.4M349.50 0.30v2.4M361.50 247.30v-2.4M361.50 0.30v2.4M372.50 247.30v-2.4M372.50 0.30v2.4M384.50 247.30v-2.4M384.50 0.30v2.4M396.50 247.30v-4.3M396.50 0.30v4.3M408.50 247.30v-2.4M408.50 0.30v2.4M419.50 247.30v-2.4M419.50 0.30v2.4M431.50 247.30v-2.4M431.50 0.30v2.4M443.50 247.30v-2.4M443.50 0.30v2.4M455.50 247.30v-4.3M455.50 0.30v4.3M466.50 247.30v-2.4M466.50 0.30v2.4M478.50 247.30v-2.4M478.50 0.30v2.4M490.50 247.30v-2.4M490.50 0.30v2.4M502.50 247.30v-2.4M502.50 0.30v2.4M513.50 247.30v-4.3M513.50 0.30v4.3M290.50 234.50h2.4M525.50 234.50h-2.4M290.50 221.50h2.4M525.50 221.50h-2.4M290.50 208.50h2.4M525.50 208.50h-2.4M290.50 195.50h4.3M525.50 195.50h-4.3M290.50 182.50h2.4M525.50 182.50h-2.4M290.50 169.50h2.4M525.50 169.50h-2.4M290.50 156.50h2.4M525.50 156.50h-2.4M290.50 143.50h4.3M525.50 143.50h-4.3M290.50 130.50h2.4M525.50 130.50h-2.4M290.50 117.50h2.4M525.50 117.50h-2.4M290.50 104.50h2.4M525.50 104.50h-2.4M290.50 91.50h4.3M525.50 91.50h-4.3M290.50 78.50h2.4M525.50 78.50h-2.4M290.50 65.50h2.4M525.50 65.50h-2.4M290.50 52.50h2.4M525.50 52.50h-2.4M290.50 39.50h4.3M525.50 39.50h-4.3M290.50 26.50h2.4M525.50 26.50h-2.4M290.50 13.50h2.4M525.50 13.50h-2.4M537.50 247.30v-2.4M537.50 0.30v2.4M549.50 247.30v-2.4M549.50 0.30v2.4M560.50 247.30v-2.4M560.50 0.30v2.4M572.50 247.30v-4.3M572.50 0.30v4.3M584.50 247.30v-2.4M584.50 0.30v2.4M596.50 247.30v-2.4M596.50 0.30v2.4M607.50 247.30v-2.4M607.50 0.30v2.4M619.50 247.30v-2.4M619.50 0.30v2.4M631.50 247.30v-4.3M631.50 0.30v4.3M643.50 247.30v-2.4M643.50 0.30v2.4M654.50 247.30v-2.4M654.50 0.30v2.4M666.50 247.30v-2.4M666.50 0.30v2.4M678.50 247.30v-2.4M678.50 0.30v2.4M690.50 247.30v-4.3M690.50 0.30v4.3M701.50 247.30v-2.4M701.50 0.30v2.4M713.50 247.30v-2.4M713.50 0.30v2.4M725.50 247.30v-2.4M725.50 0.30v2.4M737.50 247.30v-2.4M737.50 0.30v2.4M748.50 247.30v-4.3M748.50 0.30v4.3M525.50 221.50h2.4M760.50 221.50h-2.4M525.50 195.50h4.3M760.50 195.50h-4.3M525.50 169.50h2.4M760.50 169.50h-2.4M525.50 143.50h4.3M760.50 143.50h-4.3M525.50 117.50h2.4M760.50 117.50h-2.4M525.50 91.50h4.3M760.50 91.50h-4.3M525.50 65.50h2.4M760.50 65.50h-2.4M525.50 39.50h4.3M760.50 39.50h-4.3M525.50 13.50h2.4M760.50 13.50h-2.4M67.50 494.30v-2.4M67.50 247.30v2.4M79.50 494.30v-2.4M79.50 247.30v2.4M90.50 494.30v-2.4M90.50 247.30v2.4M102.50 494.30v-4.3M102.50 247.30v4.3M114.50 494.30v-2.4M114.50 247.30v2.4M126.50 494.30v-2.4M126.50 247.30v2.4M137.50 494.30v-2.4M137.50 247.30v2.4M149.50 494.30v-2.4M149.50 247.30v2.4M161.50 494.30v-4.3M161.50 247.30v4.3M173.50 494.30v-2.4M173.50 247.30v2.4M184.50 494.30v-2.4M184.50 247.30v2.4M196.50 494.30v-2.4M196.50 247.30v2.4M208.50 494.30v-2.4M208.50 247.30v2.4M220.50 494.30v-4.3M220.50 247.30v4.3M231.50 494.30v-2.4M231.50 247.30v2.4M243.50 494.30v-2.4M243.50 247.30v2.4M255.50 494.30v-2.4M255.50 247.30v2.4M267.50 494.30v-2.4M267.50 247.30v2.4M278.50 494.30v-4.3M278.50 247.30v4.3M55.50 481.50h2.4M290.50 481.50h-2.4M55.50 468.50h2.4M290.50 468.50h-2.4M55.50 455.50h2.4M290.50 455.50h-2.4M55.50 442.50h4.3M290.50 442.50h-4.3M55.50 429.50h2.4M290.50 429.50h-2.4M55.50 416.50h2.4M290.50 416.50h-2.4M55.50 403.50h2.4M290.50 403.50h-2.4M55.50 390.50h4.3M290.50 390.50h-4.3M55.50 377.50h2.4M290.50 377.50h-2.4M55.50 364.50h2.4M290.50 364.50h-2.4M55.50 351.50h2.4M290.50 351.50h-2.4M55.50 338.50h4.3M290.50 338.50h-4.3M55.50 325.50h2.4M290.50 325.50h-2.4M55.50 312.50h2.4M290.50 312.50h-2.4M55.50 299.50h2.4M290.50 299.50h-2.4M55.50 286.50h4.3M290.50 286.50h-4.3M55.50 273.50h2.4M290.50 273.50h-2.4M55.50 260.50h2.4M290.50 260.50h-2.4M302.50 494.30v-2.4M302.50 247.30v2.4M314.50 494.30v-2.4M314.50 247.30v2.4M325.50 494.30v-2.4M325.50 247.30v2.4M337.50 494.30v-4.3M337.50 247.30v4.3M349.50 494.30v-2.4M349.50 247.30v2.4M361.50 494.30v-2.4M361.50 247.30v2.4M372.50 494.30v-2.4M372.50 247.30v2.4M384.50 494.30v-2.4M384.50 247.30v2.4M396.50 494.30v-4.3M396.50 247.30v4.3M408.50 494.30v-2.4M408.50 247.30v2.4M419.50 494.30v-2.4M419.50 247.30v2.4M431.50 494.30v-2.4M431.50 247.30v2.4M443.50 494.30v-2.4M443.50 247.30v2.4M455.50 494.30v-4.3M455.50 247.30v4.3M466.50 494.30v-2.4M466.50 247.30v2.4M478.50 494.30v-2.4M478.50 247.30v2.4M490.50 494.30v-2.4M490.50 247.30v2.4M502.50 494.30v-2.4M502.50 247.30v2.4M513.50 494.30v-4.3M513.50 247.30v4.3M290.50 481.50h2.4M525.50 481.50h-2.4M290.50 468.50h2.4M525.50 468.50h-2.4M290.50 455.50h2.4M525.50 455.50h-2.4M290.50 442.50h4.3M525.50 442.50h-4.3M290.50 429.50h2.4M525.50 429.50h-2.4M290.50 416.50h2.4M525.50 416.50h-2.4M290.50 403.50h2.4M525.50 403.50h-2.4M290.50 390.50h4.3M525.50 390.50h-4.3M290.50 377.50h2.4M525.50 377.50h-2.4M290.50 364.50h2.4M525.50 364.50h-2.4M290.50 351.50h2.4M525.50 351.50h-2.4M290.50 338.50h4.3M525.50 338.50h-4.3M290.50 325.50h2.4M525.50 325.50h-2.4M290.50 312.50h2.4M525.50 312.50h-2.4M290.50 299.50h2.4M525.50 299.50h-2.4M290.50 286.50h4.3M525.50 286.50h-4.3M290.50 273.50h2.4M525.50 273.50h-2.4M290.50 260.50h2.4M525.50 260.50h-2.4M537.50 494.30v-2.4M537.50 247.30v2.4M549.50 494.30v-2.4M549.50 247.30v2.4M560.50 494.30v-2.4M560.50 247.30v2.4M572.50 494.30v-4.3M572.50 247.30v4.3M584.50 494.30v-2.4M584.50 247.30v2.4M596.50 494.30v-2.4M596.50 247.30v2.4M607.50 494.30v-2.4M607.50 247.30v2.4M619.50 494.30v-2.4M619.50 247.30v2.4M631.50 494.30v-4.3M631.50 247.30v4.3M643.50 494.30v-2.4M643.50 247.30v2.4M654.50 494.30v-2.4M654.50 247.30v2.4M666.50 494.30v-2.4M666.50 247.30v2.4M678.50 494.30v-2.4M678.50 247.30v2.4M690.50 494.30v-4.3M690.50 247.30v4.3M701.50 494.30v-2.4M701.50 247.30v2.4M713.50 494.30v-2.4M713.50 247.30v2.4M725.50 494.30v-2.4M725.50 247.30v2.4M737.50 494.30v-2.4M737.50 247.30v2.4M748.50 494.30v-4.3M748.50 247.30v4.3M525.50 481.50h2.4M760.50 481.50h-2.4M525.50 468.50h2.4M760.50 468.50h-2.4M525.50 455.50h2.4M760.50 455.50h-2.4M525.50 442.50h4.3M760.50 442.50h-4.3M525.50 429.50h2.4M760.50 429.50h-2.4M525.50 416.50h2.4M760.50 416.50h-2.4M525.50 403.50h2.4M760.50 403.50h-2.4M525.50 390.50h4.3M760.50 390.50h-4.3M525.50 377.50h2.4M760.50 377.50h-2.4M525.50 364.50h2.4M760.50 364.50h-2.4M525.50 351.50h2.4M760.50 351.50h-2.4M525.50 338.50h4.3M760.50 338.50h-4.3M525.50 325.50h2.4M760.50 325.50h-2.4M525.50 312.50h2.4M760.50 312.50h-2.4M525.50 299.50h2.4M760.50 299.50h-2.4M525.50 286.50h4.3M760.50 286.50h-4.3M525.50 273.50h2.4M760.50 273.50h-2.4M525.50 260.50h2.4M760.50 260.50h-2.4" stroke="#000" stroke-width="1.05" fill="none"/>
<path d="M55.50 0.30H290.50V247.30H55.50ZM290.50 0.30H525.50V247.30H290.50ZM525.50 0.30H760.50V247.30H525.50ZM55.50 247.30H290.50V494.30H55.50ZM290.50 247.30H525.50V494.30H290.50ZM525.50 247.30H760.50V494.30H525.50Z" stroke="#000" stroke-width="1.3" fill="none"/></svg>
<div class="yl" style="top:238.70px">0.00</div><div class="yl" style="top:186.70px">0.04</div><div class="yl" style="top:134.70px">0.08</div><div class="yl" style="top:82.70px">0.12</div><div class="yl" style="top:30.70px">0.16</div><div class="yl" style="top:485.70px">0.00</div><div class="yl" style="top:433.70px">0.04</div><div class="yl" style="top:381.70px">0.08</div><div class="yl" style="top:329.70px">0.12</div><div class="yl" style="top:277.70px">0.16</div><div class="xl" style="left:81.80px">300</div><div class="xl" style="left:140.55px">350</div><div class="xl" style="left:199.30px">400</div><div class="xl" style="left:258.05px">450</div><div class="xl" style="left:316.80px">300</div><div class="xl" style="left:375.55px">350</div><div class="xl" style="left:434.30px">400</div><div class="xl" style="left:493.05px">450</div><div class="xl" style="left:551.80px">300</div><div class="xl" style="left:610.55px">350</div><div class="xl" style="left:669.30px">400</div><div class="xl" style="left:728.05px">450</div><div class="lam g" style="left:137.8px">&#955;</div><div class="lam" style="left:153.1px">(nm)</div><div class="lam g" style="left:370.7px">&#955;</div><div class="lam" style="left:386.0px">(nm)</div><div class="lam g" style="left:610.5px">&#955;</div><div class="lam" style="left:625.8px">(nm)</div><div class="ylab" style="top:129.8px">Absorbance</div><div class="ylab" style="top:359.8px">Absorbance</div><div class="pl" style="left:237.4px;top:9.1px">a</div><div class="pl" style="left:473.1px;top:9.1px">b</div><div class="pl" style="left:707.7px;top:9.1px">c</div><div class="pl" style="left:239.9px;top:253.2px">d</div><div class="pl" style="left:472.6px;top:253.2px">e</div><div class="pl" style="left:702.4px;top:253.1px">f</div>
</body></html>
